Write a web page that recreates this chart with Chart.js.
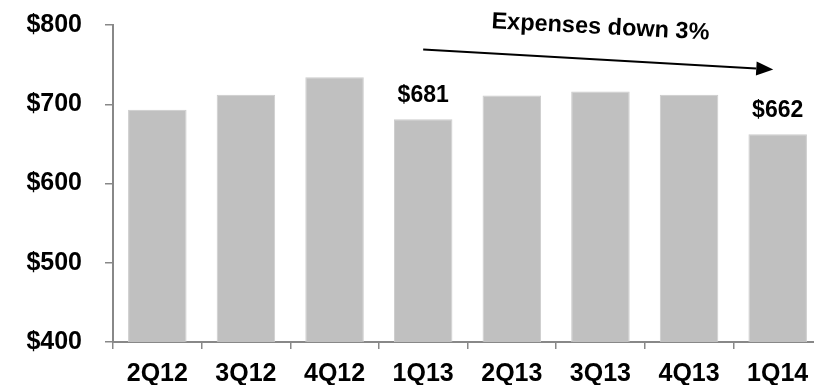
<!DOCTYPE html>
<html>
<head>
<meta charset="utf-8">
<script src="https://cdn.jsdelivr.net/npm/chart.js@4/dist/chart.umd.min.js"></script>
<style>
html,body{margin:0;padding:0;background:#fff;overflow:hidden;}
#wrap{width:822px;height:385px;}
</style>
</head>
<body>
<div id="wrap"><canvas id="c" width="822" height="385"></canvas></div>
<script>
const categories = ['2Q12','3Q12','4Q12','1Q13','2Q13','3Q13','4Q13','1Q14'];
const expenses = [693, 712, 734, 681, 711, 716, 712, 662];
const valueLabels = ['', '', '', '$681', '', '', '', '$662'];
const yTicks = [400, 500, 600, 700, 800];
const trendText = 'Expenses down 3%';
const trendFrom = {index: 3, value: 769};
const trendTo = {index: 6.95, value: 744};
const trendTextAt = {index: 5, value: 797};

const FONT = '"Liberation Sans", Arial, sans-serif';

const overlay = {
  id: 'overlay',
  afterDatasetsDraw(chart) {
    const ctx = chart.ctx;
    const xs = chart.scales.x, ys = chart.scales.y;
    const meta = chart.getDatasetMeta(0);
    ctx.save();
    ctx.fillStyle = '#000';
    ctx.font = 'bold 23px ' + FONT;
    ctx.textAlign = 'center';
    ctx.textBaseline = 'middle';
    valueLabels.forEach((t, i) => {
      if (!t) return;
      const bar = meta.data[i];
      ctx.fillText(t, bar.x, bar.y - 24);
    });
    const xAt = v => xs.getPixelForValue(0) + v * (xs.getPixelForValue(1) - xs.getPixelForValue(0));
    const x1 = xAt(trendFrom.index), y1 = ys.getPixelForValue(trendFrom.value);
    const x2 = xAt(trendTo.index), y2 = ys.getPixelForValue(trendTo.value);
    const ang = Math.atan2(y2 - y1, x2 - x1);
    const head = 17, hw = 7;
    ctx.strokeStyle = '#000';
    ctx.lineWidth = 2;
    ctx.beginPath();
    ctx.moveTo(x1, y1);
    ctx.lineTo(x2 - head * Math.cos(ang), y2 - head * Math.sin(ang));
    ctx.stroke();
    ctx.beginPath();
    ctx.moveTo(x2, y2);
    ctx.lineTo(x2 - head * Math.cos(ang) + hw * Math.sin(ang), y2 - head * Math.sin(ang) - hw * Math.cos(ang));
    ctx.lineTo(x2 - head * Math.cos(ang) - hw * Math.sin(ang), y2 - head * Math.sin(ang) + hw * Math.cos(ang));
    ctx.closePath();
    ctx.fill();
    const tx = xAt(trendTextAt.index), ty = ys.getPixelForValue(trendTextAt.value);
    ctx.translate(tx, ty);
    ctx.rotate(3 * Math.PI / 180);
    ctx.font = 'bold 23.5px ' + FONT;
    ctx.fillText(trendText, 0, 0);
    ctx.restore();
  }
};

new Chart(document.getElementById('c'), {
  type: 'bar',
  data: {
    labels: categories,
    datasets: [{
      data: expenses,
      backgroundColor: '#c0c0c0',
      borderColor: '#cccccc',
      borderWidth: {left: 1, right: 1, top: 1, bottom: 0},
      categoryPercentage: 1,
      barPercentage: 0.66
    }]
  },
  options: {
    responsive: false,
    animation: false,
    devicePixelRatio: 1,
    layout: {padding: {top: 25, left: 0, right: 0, bottom: 0}},
    plugins: {legend: {display: false}, tooltip: {enabled: false}},
    scales: {
      x: {
        offset: true,
        afterFit(scale) { scale.height = 43; scale.paddingLeft = 0; scale.paddingRight = 0; },
        grid: {offset: true, drawOnChartArea: false, drawTicks: true, tickLength: 7, color: '#888', lineWidth: 1.5},
        border: {display: true, color: '#888', width: 2},
        ticks: {color: '#000', font: {family: FONT, size: 25, weight: 'bold'}, padding: 10, maxRotation: 0, autoSkip: false}
      },
      y: {
        min: 400, max: 800,
        afterBuildTicks(scale) { scale.ticks = yTicks.map(v => ({value: v})); },
        afterFit(scale) { scale.width = 113; scale.paddingTop = 0; scale.paddingBottom = 0; },
        grid: {drawOnChartArea: false, drawTicks: true, tickLength: 8, color: '#888', lineWidth: 1.5},
        border: {display: true, color: '#888', width: 2},
        ticks: {color: '#000', font: {family: FONT, size: 25, weight: 'bold'}, padding: 23,
          callback: v => '$' + v}
      }
    }
  },
  plugins: [overlay]
});
</script>
</body>
</html>
